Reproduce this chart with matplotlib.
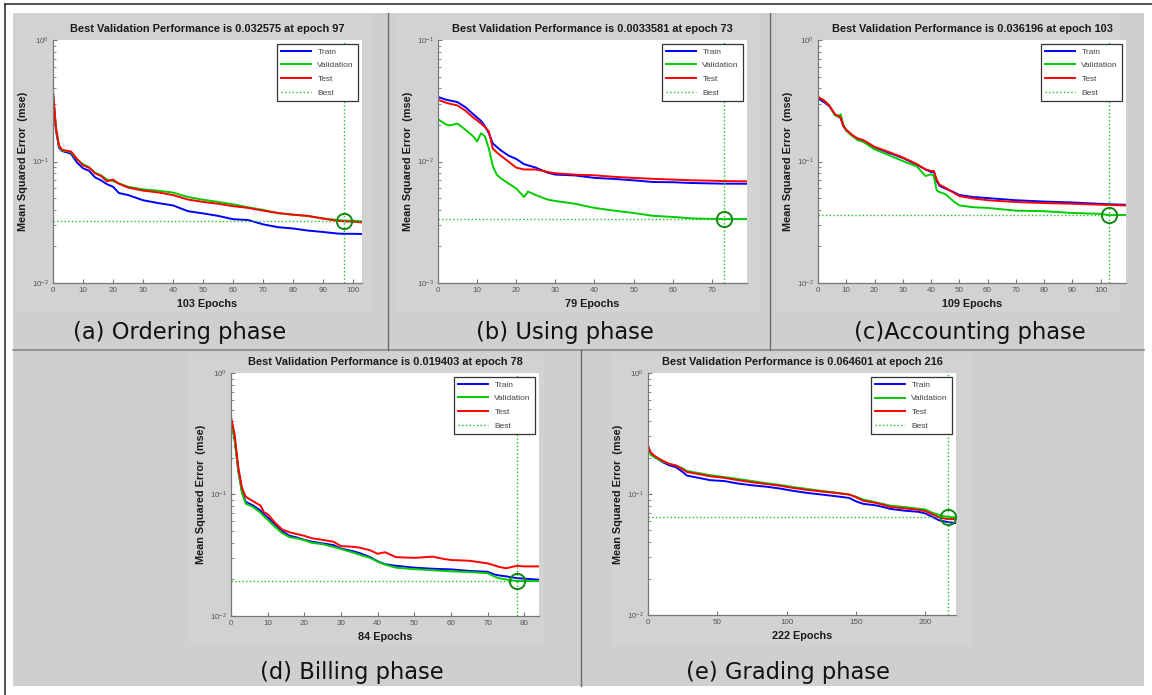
import numpy as np
import matplotlib.pyplot as plt
from matplotlib.patches import Rectangle
from matplotlib.lines import Line2D

W, H = 1152, 695

# ---- data (mse per epoch) ----
# (a) Ordering phase
a_epochs = [0, 1, 2, 3, 5, 6, 8, 10, 12, 14, 16, 18, 20, 22, 25, 30, 35, 40,
            45, 50, 55, 60, 65, 70, 75, 80, 85, 90, 95, 97, 100, 103]
a_train = [.36, .18, .13, .122, .118, .116, .098, .088, .084, .074, .070, .065,
           .062, .055, .053, .048, .0455, .0435, .039, .0374, .0357, .0335,
           .0330, .0304, .0288, .0281, .027, .0263, .0255, .0254, .0254, .0253]
a_val = [.37, .185, .133, .123, .121, .119, .104, .095, .090, .081, .077, .071,
         .069, .066, .062, .059, .0575, .0555, .051, .0485, .0465, .0445, .042,
         .040, .0375, .0365, .0355, .034, .0330, .032575, .0325, .0322]
a_test = [.375, .189, .136, .125, .122, .121, .105, .093, .089, .080, .076,
          .0687, .071, .0655, .061, .0576, .0557, .0529, .0486, .0465, .0449,
          .0429, .0415, .0394, .0377, .0365, .0357, .0339, .0324, .0322, .0320,
          .0315]

# (b) Using phase
b_epochs = [0, 2, 3, 5, 7, 9, 10, 11, 12, 13, 14, 15, 16, 18, 20, 22, 23, 25,
            28, 30, 35, 40, 45, 50, 55, 60, 65, 70, 73, 79]
b_train = [.0340, .0323, .0318, .0308, .028, .0245, .023, .0216, .0195, .0171,
           .0141, .0132, .0124, .0112, .0105, .0095, .0093, .0089, .0081, .0078,
           .00768, .00733, .00719, .0070, .00678, .00675, .00665, .0066,
           .00657, .00656]
b_val = [.0223, .0202, .0198, .0205, .0183, .0161, .0146, .0171, .0161, .0128,
         .0092, .0078, .0073, .0066, .0060, .0051, .00565, .0053, .00486,
         .00473, .00449, .00415, .00394, .00377, .00357, .0035, .0034, .00337,
         .0033581, .00336]
b_test = [.0323, .0305, .0299, .0289, .0262, .023, .0218, .0205, .0192, .0177,
          .0128, .0119, .0112, .0100, .0089, .0086, .0086, .0086, .0082, .0080,
          .0078, .0077, .00748, .00733, .0072, .0071, .0070, .00695, .0069,
          .00687]

# (c) Accounting phase
c_epochs = [0, 2, 4, 6, 7, 8, 9, 10, 12, 14, 16, 18, 20, 25, 30, 35, 38, 40,
            41, 42, 43, 45, 48, 50, 55, 60, 70, 80, 90, 100, 103, 109]
c_train = [.33, .31, .285, .243, .236, .228, .195, .18, .165, .153, .149, .140,
           .131, .118, .107, .094, .086, .082, .082, .069, .063, .060, .056,
           .053, .051, .050, .048, .0468, .046, .0448, .0445, .0440]
c_val = [.34, .32, .29, .24, .235, .245, .20, .18, .163, .150, .145, .135, .126,
         .113, .101, .091, .076, .0785, .076, .058, .056, .054, .047, .0435,
         .042, .0415, .0394, .039, .0377, .0371, .036196, .0363]
c_test = [.340, .319, .289, .245, .238, .230, .195, .183, .166, .155, .150,
          .141, .132, .120, .108, .0953, .0863, .0836, .0836, .071, .0644,
          .061, .0554, .0519, .0496, .048, .0464, .0455, .0449, .0441, .0438,
          .0435]

# (d) Billing phase
d_epochs = [0, 1, 2, 3, 4, 6, 8, 9, 10, 12, 14, 16, 18, 20, 22, 25, 28, 30, 33,
            35, 38, 40, 42, 45, 50, 55, 58, 60, 65, 70, 72, 73, 75, 78, 80, 84]
d_train = [.418, .282, .157, .106, .0869, .0814, .0738, .069, .0647, .0568,
           .0498, .0457, .0443, .0423, .0409, .0396, .0383, .0359, .0343, .033,
           .0305, .0282, .0267, .0259, .025, .0245, .0243, .0242, .0235, .0231,
           .0219, .0216, .0212, .0205, .0203, .0199]
d_val = [.41, .28, .155, .103, .084, .079, .071, .066, .062, .054, .048, .0445,
         .0435, .042, .040, .039, .037, .0355, .0335, .032, .030, .028, .0265,
         .025, .0243, .0238, .0235, .0233, .023, .0225, .021, .0205, .0200,
         .019403, .0194, .0194]
d_test = [.432, .312, .167, .113, .096, .088, .0814, .0714, .069, .0586, .0514,
          .0488, .0472, .0457, .0437, .0423, .0408, .0376, .0372, .0366, .0347,
          .0325, .0335, .0305, .0301, .0308, .0295, .0289, .0285, .0271, .026,
          .0254, .0247, .0259, .0256, .0256]

# (e) Grading phase
e_epochs = [0, 2, 5, 10, 15, 20, 25, 28, 35, 45, 55, 65, 75, 85, 95, 105, 115,
            125, 135, 145, 150, 155, 165, 175, 185, 195, 200, 205, 210, 216,
            222]
e_train = [.248, .217, .204, .185, .173, .167, .152, .142, .137, .130, .128,
           .122, .118, .115, .111, .106, .102, .099, .096, .0928, .0869, .083,
           .0803, .0752, .0728, .0712, .069, .0647, .0605, .0586, .0574]
e_val = [.245, .21, .20, .187, .178, .172, .163, .155, .150, .143, .138, .133,
         .128, .123, .119, .114, .110, .106, .103, .099, .095, .090, .085, .080,
         .078, .0755, .0745, .070, .067, .064601, .064]
e_test = [.25, .22, .205, .19, .178, .172, .16, .152, .147, .140, .136, .130,
          .125, .121, .117, .112, .108, .105, .102, .099, .094, .088, .084, .078,
          .076, .074, .072, .068, .064, .062, .062]

captions = ["(a) Ordering phase", "(b) Using phase", "(c)Accounting phase",
            "(d) Billing phase", "(e) Grading phase"]
n_epochs = [103, 79, 109, 84, 222]
best_epoch = [97, 73, 103, 78, 216]
best_perf = [0.032575, 0.0033581, 0.036196, 0.019403, 0.064601]
best_text = ["0.032575", "0.0033581", "0.036196", "0.019403", "0.064601"]

panels = [
    # data, ylim, xticks, axes box (px), caption centre (px)
    (a_epochs, a_train, a_val, a_test, (1e-2, 1e0), range(0, 101, 10),
     (53, 40, 362, 283), (180, 332)),
    (b_epochs, b_train, b_val, b_test, (1e-3, 1e-1), range(0, 71, 10),
     (438, 40, 747, 283), (565, 332)),
    (c_epochs, c_train, c_val, c_test, (1e-2, 1e0), range(0, 101, 10),
     (818, 40, 1126, 283), (970, 332)),
    (d_epochs, d_train, d_val, d_test, (1e-2, 1e0), range(0, 81, 10),
     (231, 373, 539, 616), (352, 672)),
    (e_epochs, e_train, e_val, e_test, (1e-2, 1e0), range(0, 201, 50),
     (648, 373, 956, 615), (788, 672)),
]

MFONT = ["Liberation Sans", "DejaVu Sans"]


def fig_rect(fig, x0, y0, x1, y1, **kw):
    r = Rectangle((x0 / W, 1 - y1 / H), (x1 - x0) / W, (y1 - y0) / H,
                  transform=fig.transFigure, zorder=-2, **kw)
    fig.add_artist(r)


def fig_line(fig, xs, ys, **kw):
    ln = Line2D([x / W for x in xs], [1 - y / H for y in ys],
                transform=fig.transFigure, zorder=-1, **kw)
    fig.add_artist(ln)


fig = plt.figure(figsize=(W / 100, H / 100), dpi=100)
fig.patch.set_facecolor("white")

# grey page with cell dividers
fig_rect(fig, 13, 13, 1144, 686, facecolor="#cfcfcf", edgecolor="none")
for box in [(13, 13, 372, 312), (395, 13, 760, 312), (776, 13, 1120, 312),
            (190, 353, 545, 645), (612, 353, 972, 645)]:
    fig_rect(fig, *box, facecolor="#d2d2d2", edgecolor="none")
fig_line(fig, [5, 5], [4, 695], color="#333333", lw=1.2)
fig_line(fig, [5, 1152], [4, 4], color="#333333", lw=1.2)
fig_line(fig, [13, 1144], [350, 350], color="#8a8a8a", lw=1.2)
fig_line(fig, [388, 388], [13, 350], color="#6a6a6a", lw=1.0)
fig_line(fig, [770, 770], [13, 350], color="#6a6a6a", lw=1.0)
fig_line(fig, [581, 581], [350, 686], color="#6a6a6a", lw=1.0)

for i, (ep, tr, va, te, ylim, xt, box, cap) in enumerate(panels):
    x0, y0, x1, y1 = box
    ax = fig.add_axes([x0 / W, 1 - y1 / H, (x1 - x0) / W, (y1 - y0) / H])
    ax.set_facecolor("white")

    ax.plot(ep, tr, color="#0000ff", lw=1.4, label="Train")
    ax.plot(ep, va, color="#00cc00", lw=1.4, label="Validation")
    ax.plot(ep, te, color="#ff0000", lw=1.4, label="Test")
    ax.axhline(best_perf[i], color="#22c022", ls=":", lw=1.0, label="Best")
    ax.axvline(best_epoch[i], color="#22c022", ls=":", lw=1.0)
    ax.plot(best_epoch[i], best_perf[i], "o", mfc="none", mec="#118811",
            ms=11, mew=1.4)

    ax.set_yscale("log")
    ax.set_ylim(*ylim)
    ax.set_xlim(0, n_epochs[i])
    ax.set_xticks(list(xt))

    for s in ["top", "right"]:
        ax.spines[s].set_visible(False)
    for s in ["left", "bottom"]:
        ax.spines[s].set_color("#777777")
        ax.spines[s].set_linewidth(0.9)
    ax.tick_params(which="both", direction="in", colors="#777777",
                   labelcolor="#555555", labelsize=5.8, pad=3)
    ax.tick_params(which="major", length=3)
    ax.tick_params(which="minor", length=1.8)
    for lab in ax.get_xticklabels() + ax.get_yticklabels():
        lab.set_family(MFONT)

    ax.set_title("Best Validation Performance is %s at epoch %d"
                 % (best_text[i], best_epoch[i]),
                 fontsize=7.9, fontweight="bold", color="#1a1a1a",
                 family=MFONT, pad=5.5)
    ax.set_xlabel("%d Epochs" % n_epochs[i], fontsize=7.8, fontweight="bold",
                  color="#1a1a1a", family=MFONT)
    ax.set_ylabel("Mean Squared Error  (mse)", fontsize=7.8, fontweight="bold",
                  color="#1a1a1a", family=MFONT)
    ax.xaxis.set_label_coords(0.5, -21 / (y1 - y0))
    ax.xaxis.label.set_va("center")
    ax.yaxis.set_label_coords(-30 / (x1 - x0), 0.5)
    ax.yaxis.label.set_va("center")

    leg = ax.legend(loc="upper right", handlelength=3.6,
                    handletextpad=0.8, borderpad=0.5, labelspacing=0.7,
                    borderaxespad=0.45, fancybox=False, framealpha=1,
                    edgecolor="#333333", prop={"family": MFONT, "size": 6})
    leg.get_frame().set_linewidth(0.9)
    for t in leg.get_texts():
        t.set_color("#444444")

    fig.text(cap[0] / W, 1 - cap[1] / H, captions[i], ha="center",
             va="center", fontsize=16.3, family="DejaVu Sans", color="#111111")

fig.savefig("out.png", dpi=100)
